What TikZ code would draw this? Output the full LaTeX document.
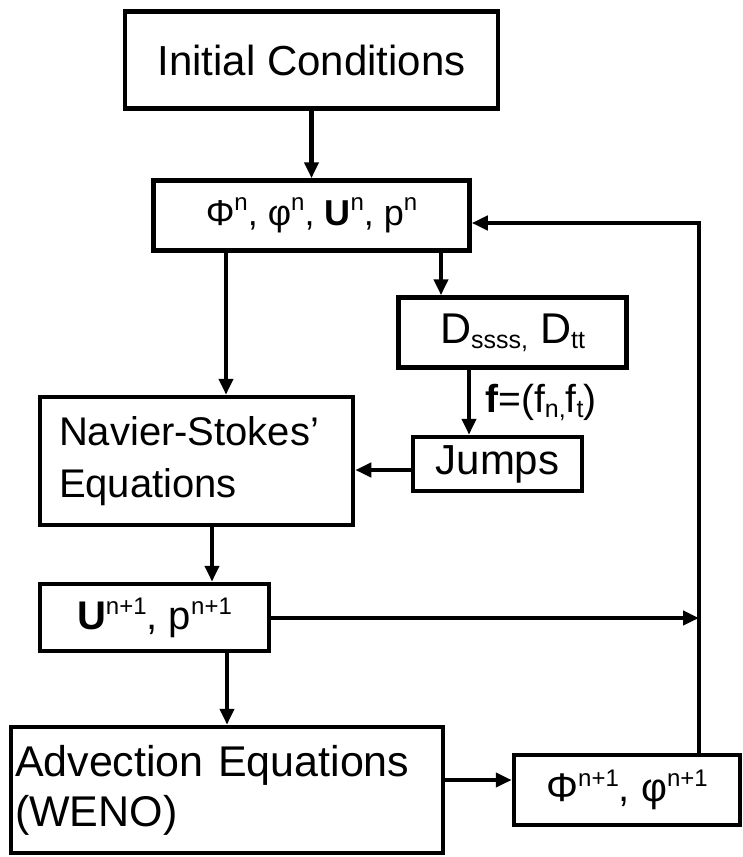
\documentclass[tikz,border=0pt]{standalone}
\usepackage{fontspec}
\setmainfont{Liberation Sans}
\usetikzlibrary{arrows.meta}
\newcommand\supx[1]{\raisebox{15pt}{\fontsize{24}{24}\selectfont #1}}
\newcommand\subx[1]{\raisebox{-5pt}{\fontsize{25}{25}\selectfont #1}}
\begin{document}
\begin{tikzpicture}[x=1pt,y=-1pt,
  box/.style={draw, line width=4.5pt, inner sep=0pt, align=center,
    font=\fontsize{40}{52}\selectfont},
  arr/.style={line width=4.5pt, -{Triangle[length=16pt,width=14pt]}}]
\useasboundingbox (0,0) rectangle (743,857);
\node[box, minimum width=373pt, minimum height=97pt, font=\fontsize{42}{50}\selectfont] (IC) at (311.5,60) {Initial Conditions};
\node[box, minimum width=316pt, minimum height=70pt, font=\fontsize{36}{46}\selectfont] (Phin) at (311.5,215.5)
  {Φ\supx{n}, φ\supx{n}, \textbf{U}\supx{n}, p\supx{n}};
\node[box, minimum width=228pt, minimum height=70pt, font=\fontsize{43}{50}\selectfont] (D) at (512.5,332.5) {D\subx{ssss,} D\subx{tt}};
\node[box, minimum width=313pt, minimum height=128pt, align=left, text width=275pt, inner xsep=19pt] (NS) at (196.5,461)
  {Navier-Stokes'\\Equations};
\node[box, minimum width=169pt, minimum height=54pt, font=\fontsize{42}{50}\selectfont] (J) at (497.5,464) {Jumps};
\node[box, minimum width=229pt, minimum height=67pt] (U) at (154.5,617.5) {\textbf{U}\supx{n+1}, p\supx{n+1}};
\node[box, minimum width=432pt, minimum height=126pt, align=left, text width=424pt, inner xsep=4pt,
  font=\fontsize{43}{50}\selectfont] (A) at (227,790) {Advection Equations\\(WENO)};
\node[box, minimum width=226pt, minimum height=70pt] (P1) at (627,790) {Φ\supx{n+1}, φ\supx{n+1}};
\coordinate (corner) at (699,223);
\coordinate (join) at (699,618);
\draw[arr] (IC.south) -- (Phin.north);
\draw[arr] ([xshift=-85.5pt]Phin.south) coordinate (a0) -- (a0 |- NS.north);
\draw[arr] ([xshift=129.5pt]Phin.south) coordinate (a1) -- (a1 |- D.north);
\draw[arr] ([xshift=-43.5pt]D.south) coordinate (a2) -- (a2 |- J.north)
  node[pos=0.5, anchor=west, xshift=14pt, font=\fontsize{39}{46}\selectfont, inner sep=0pt] (flabel)
  {\textbf{f}=(f\subx{n,}f\subx{t})};
\draw[arr] ([yshift=-6pt]J.west) coordinate (a3) -- (a3 -| NS.east);
\draw[arr] ([xshift=15.5pt]NS.south) coordinate (a4) -- (a4 |- U.north);
\draw[arr] ([xshift=72.5pt]U.south) coordinate (a5) -- (a5 |- A.north);
\draw[arr] ([yshift=10pt]A.east) coordinate (a6) -- (a6 -| P1.west);
\draw[arr] (U.east |- join) -- (join);
\draw[arr] (P1.north -| corner) -- (corner) -- (Phin.east |- corner);
\end{tikzpicture}
\end{document}
